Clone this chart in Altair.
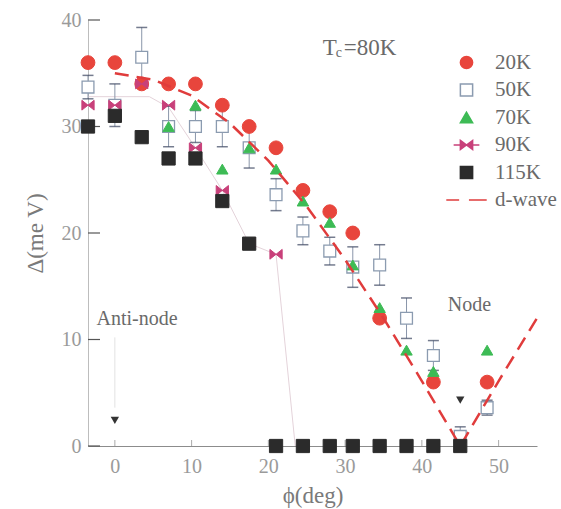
import altair as alt
import pandas as pd

# Fermi-surface angle (deg) of each measured cut
phi = [-3.5, 0, 3.5, 7, 10.5, 14, 17.5, 21, 24.5, 28, 31, 34.5, 38, 41.5, 45, 48.5]

# Gap size (meV) per temperature; None = not measured
gap_20K = [36, 36, 34, 34, 34, 32, 30, 28, 24, 22, 20, 12, None, 6, None, 6]
gap_50K = [33.7, 32, 36.5, 30, 30, 30, 28, 23.6, 20.2, 18.3, 16.8, 17, 12, 8.5, 0.9, 3.6]
err_50K = [1.1, 2.0, 2.8, 1.9, 1.5, 1.9, 1.9, 1.5, 1.3, 1.3, 1.9, 1.9, 1.9, 1.4, 0.9, 0.7]
gap_70K = [None, None, None, 30, 32, 26, 28, 26, 23, 21, 17, 13, 9, 7, None, 9]
gap_90K = [32, 32, 34, 32, 28, 24, 19, 18, None, None, None, None, None, None, None, None]
gap_115K = [30, 31, 29, 27, 27, 23, 19, 0, 0, 0, 0, 0, 0, 0, 0, None]

# Guide line through the 90K data
trend_phi = [-3.5, 4.5, 7, 10.5, 14, 17.5, 21, 23.5]
trend_90K = [32.8, 32.8, 31.8, 28, 24, 19, 18, 0]

# d-wave gap curve
dwave_phi = [0, 5, 10, 15, 20, 25, 30, 35, 40, 45, 50, 55]
dwave_gap = [35, 34.4, 32.9, 30.3, 26.8, 22.5, 17.5, 12, 6.1, 0, 6.1, 12]

# Anti-node / node pointers
pointer_phi = [0, 45]
pointer_gap = [2.4, 4.3]

x_ticks = [0, 10, 20, 30, 40, 50]
y_ticks = [0, 10, 20, 30, 40]

legend_entries = ["20K", "50K", "70K", "90K", "115K", "d-wave"]

FONT = "Liberation Serif"
BOWTIE = "M-1,-0.8L1,0.8L1,-0.8L-1,0.8Z"
X_TITLE = "ϕ(deg)"
Y_TITLE = "Δ(me V)"

X_SCALE = alt.Scale(domain=[-3.5, 55], nice=False, zero=False)
Y_SCALE = alt.Scale(domain=[0, 40], nice=False)


def series_frame(values):
    rows = [(p, v) for p, v in zip(phi, values) if v is not None]
    return pd.DataFrame(rows, columns=["phi", "gap"])


def X(field="phi"):
    return alt.X(f"{field}:Q", scale=X_SCALE, title=X_TITLE)


def Y(field="gap"):
    return alt.Y(f"{field}:Q", scale=Y_SCALE, title=Y_TITLE)


def points(values, **style):
    return alt.Chart(series_frame(values)).mark_point(opacity=1, **style).encode(x=X(), y=Y())


# axes (carried by an invisible layer) and inward ticks
axes = alt.Chart(pd.DataFrame({"phi": [0], "gap": [0]})).mark_point(opacity=0).encode(
    x=alt.X("phi:Q", scale=X_SCALE, title=X_TITLE, axis=alt.Axis(values=x_ticks)),
    y=alt.Y("gap:Q", scale=Y_SCALE, title=Y_TITLE, axis=alt.Axis(values=y_ticks)),
)

y_tick_marks = alt.Chart(pd.DataFrame({"gap": y_ticks})).mark_rule(color="#555", strokeWidth=1.2).encode(
    y=Y(), x=alt.value(0), x2=alt.value(12))
x_tick_marks = alt.Chart(pd.DataFrame({"phi": x_ticks})).mark_rule(color="#aaa", strokeWidth=1).encode(
    x=X(), y=alt.value(426), y2=alt.value(420))

# 90K guide line
trend = alt.Chart(pd.DataFrame({"phi": trend_phi, "gap": trend_90K})).mark_line(
    color="#e4d3da", strokeWidth=1).encode(x=X(), y=Y())

# error bars of the 50K data
err_df = pd.DataFrame({
    "phi": phi,
    "lo": [g - e for g, e in zip(gap_50K, err_50K)],
    "hi": [g + e for g, e in zip(gap_50K, err_50K)],
})
err_rule = alt.Chart(err_df).mark_rule(color="#8a96aa", strokeWidth=1).encode(
    x=X(), y=Y("lo"), y2="hi:Q")
cap_lo = alt.Chart(err_df).mark_tick(color="#3b4560", orient="horizontal", size=11, thickness=1.5).encode(
    x=X(), y=Y("lo"))
cap_hi = alt.Chart(err_df).mark_tick(color="#3b4560", orient="horizontal", size=11, thickness=1.5).encode(
    x=X(), y=Y("hi"))

p50 = points(gap_50K, shape="square", size=140, fill="white", stroke="#8b9bb0", strokeWidth=1.3)
p20 = points(gap_20K, shape="circle", size=190, fill="#e8453c", stroke="#e8453c", strokeWidth=1)
p70 = points(gap_70K, shape="triangle-up", size=130, fill="#3dbb55", stroke="#3dbb55", strokeWidth=1)
p90 = points(gap_90K, shape=BOWTIE, size=150, fill="#c8407a", stroke="#c8407a", strokeWidth=1)
p115 = points(gap_115K, shape="square", size=175, fill="#2b2b2b", stroke="#2b2b2b", strokeWidth=1)

dwave = alt.Chart(pd.DataFrame({"phi": dwave_phi, "gap": dwave_gap})).mark_line(
    color="#e03c3c", strokeWidth=2.5, strokeDash=[14, 8]).encode(x=X(), y=Y())

pointers = alt.Chart(pd.DataFrame({"phi": pointer_phi, "gap": pointer_gap})).mark_point(
    shape="triangle-down", size=70, filled=True, color="#333", opacity=1).encode(x=X(), y=Y())

guide = alt.Chart(pd.DataFrame({"phi": [0], "lo": [3.6], "hi": [10.2]})).mark_rule(
    color="#e2e2e2", strokeWidth=1).encode(x=X(), y=Y("lo"), y2="hi:Q")


def label(text, x, y, size=20, align="left", dx=0, dy=0, color="#6a6a6a"):
    return alt.Chart(pd.DataFrame({"phi": [x], "gap": [y]})).mark_text(
        text=text, font=FONT, fontSize=size, align=align, baseline="middle",
        color=color, dx=dx, dy=dy).encode(x=X(), y=Y())


texts = [
    label("Anti-node", -2.4, 11.9),
    label("Node", 46.2, 13.2, align="center"),
    label("T", 27.1, 37.4, size=23),
    label("c", 27.1, 37.4, size=14, dx=13, dy=5),
    label("=80K", 27.1, 37.4, size=23, dx=21),
]

# legend built from a layer with no rows of its own
legend_shapes = ["circle", "square", "triangle-up",
                 "M-2.1,0L2.1,0M-1,-0.75L1,0.75L1,-0.75L-1,0.75Z", "square",
                 "M-3.3,0L-1.2,0M0.4,0L3.3,0"]
legend_fills = ["#e8453c", "white", "#3dbb55", "#c8407a", "#2b2b2b", "transparent"]
legend_strokes = ["#e8453c", "#8b9bb0", "#3dbb55", "#c8407a", "#2b2b2b", "#e03c3c"]

leg = alt.Legend(title=None, orient="none", legendX=368, legendY=32, padding=0,
                 symbolSize=150, symbolStrokeWidth=1.5, labelFont=FONT, labelFontSize=21,
                 labelColor="#6a6a6a", labelOffset=18, rowPadding=5.5)
legend_layer = alt.Chart(pd.DataFrame({"entry": legend_entries})).transform_filter("false").mark_point(
    opacity=1).encode(
    shape=alt.Shape("entry:N", scale=alt.Scale(domain=legend_entries, range=legend_shapes), legend=leg),
    fill=alt.Fill("entry:N", scale=alt.Scale(domain=legend_entries, range=legend_fills), legend=leg),
    stroke=alt.Stroke("entry:N", scale=alt.Scale(domain=legend_entries, range=legend_strokes), legend=leg),
)

chart = alt.layer(
    axes, y_tick_marks, x_tick_marks, guide, trend, err_rule, cap_lo, cap_hi,
    p50, p20, p70, p90, dwave, p115, pointers, *texts, legend_layer,
).properties(
    width=449, height=426,
    padding={"left": 88, "top": 20, "right": 24, "bottom": 63},
    autosize="none",
    background="white",
).configure_view(
    stroke=None,
).configure_axis(
    grid=False, ticks=False, labelFont=FONT, labelFontSize=20, labelColor="#9a9a9a",
    titleFont=FONT, titleFontSize=23, titleColor="#7a7a7a", titleFontWeight="normal",
).configure_axisX(
    domainColor="#8c8c8c", labelPadding=10, titlePadding=8,
).configure_axisY(
    domainColor="#bdbdbd", labelPadding=7, titlePadding=14,
)

chart.save("out.html", embed_options={"renderer": "svg", "actions": False})
